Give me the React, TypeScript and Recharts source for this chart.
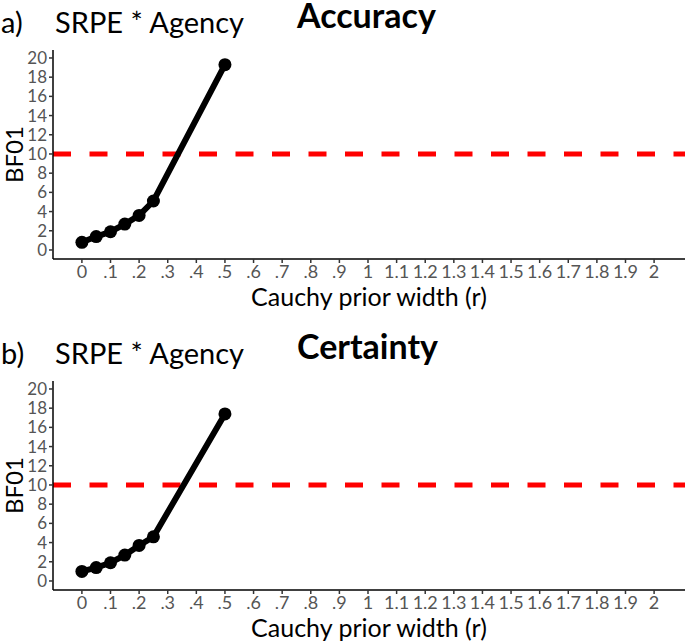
import React from "react";
import { LineChart, Line, XAxis, YAxis, ReferenceLine } from "recharts";

const priorWidths = [0, 0.05, 0.1, 0.15, 0.2, 0.25, 0.5];
const accuracyBF = [0.8, 1.4, 1.9, 2.7, 3.6, 5.1, 19.3];
const certaintyBF = [1.0, 1.4, 1.9, 2.7, 3.7, 4.6, 17.4];

const xTicks = [0, 0.1, 0.2, 0.3, 0.4, 0.5, 0.6, 0.7, 0.8, 0.9, 1, 1.1, 1.2, 1.3, 1.4, 1.5, 1.6, 1.7, 1.8, 1.9, 2];
const xTickLabels = ["0", ".1", ".2", ".3", ".4", ".5", ".6", ".7", ".8", ".9", "1", "1.1", "1.2", "1.3", "1.4", "1.5", "1.6", "1.7", "1.8", "1.9", "2"];
const yTicks = [0, 2, 4, 6, 8, 10, 12, 14, 16, 18, 20];
const threshold = 10;

const panels = [
  { letter: "a)", effect: "SRPE * Agency", title: "Accuracy", values: accuracyBF },
  { letter: "b)", effect: "SRPE * Agency", title: "Certainty", values: certaintyBF },
];

const FONT = "Lato, 'Open Sans', sans-serif";
const W = 685;
const CH = 310;

function Panel({ values, top, letter, effect, title }: { values: number[]; top: number; letter: string; effect: string; title: string }) {
  const data = priorWidths.map((r, i) => ({ r, bf: values[i] }));
  return (
    <div style={{ position: "absolute", left: 0, top, width: W, height: CH }}>
      <div style={{ position: "absolute", left: 1, top: 4, fontSize: 29, fontFamily: FONT, color: "#000", lineHeight: "36px" }}>{letter}</div>
      <div style={{ position: "absolute", left: 55, top: 4, fontSize: 29, fontFamily: FONT, color: "#000", lineHeight: "36px" }}>{effect}</div>
      <div style={{ position: "absolute", left: 297, top: 0, fontSize: 34, fontWeight: 700, fontFamily: FONT, color: "#000", lineHeight: "30px" }}>{title}</div>
      <LineChart width={W} height={CH} data={data} margin={{ top: 50, right: 0, bottom: 0, left: 0 }} style={{ fontFamily: FONT }}>
        <XAxis
          dataKey="r"
          type="number"
          domain={[-0.101, 2.108]}
          allowDataOverflow
          ticks={xTicks}
          interval={0}
          tickFormatter={(v: number) => xTickLabels[xTicks.indexOf(v)] ?? String(v)}
          height={51}
          tickSize={4}
          stroke="#000"
          strokeWidth={1.5}
          tick={{ fill: "#555", fontSize: 18 }}
          tickLine={{ stroke: "#333" }}
          label={{ value: "Cauchy prior width (r)", position: "insideBottom", offset: 4, fill: "#000", fontSize: 25 }}
        />
        <YAxis
          type="number"
          domain={[-0.94, 20.83]}
          allowDataOverflow
          ticks={yTicks}
          interval={0}
          width={53}
          tickSize={4}
          stroke="#000"
          strokeWidth={1.5}
          tick={{ fill: "#555", fontSize: 17 }}
          tickLine={{ stroke: "#333" }}
          label={{ value: "BF01", angle: -90, position: "insideLeft", offset: 14, fill: "#000", fontSize: 24, style: { textAnchor: "middle" } }}
        />
        <ReferenceLine y={threshold} stroke="#ff0000" strokeWidth={5} strokeDasharray="18 18.5" />
        <Line
          dataKey="bf"
          stroke="#000"
          strokeWidth={6}
          dot={{ r: 6.5, fill: "#000", stroke: "#000", strokeWidth: 0 }}
          isAnimationActive={false}
        />
      </LineChart>
    </div>
  );
}

export default function App() {
  return (
    <div style={{ position: "absolute", left: 0, top: 0, width: W, height: 642, background: "#fff", overflow: "hidden" }}>
      {panels.map((p, i) => (
        <Panel key={p.title} values={p.values} top={i === 0 ? 0 : 331} letter={p.letter} effect={p.effect} title={p.title} />
      ))}
    </div>
  );
}
